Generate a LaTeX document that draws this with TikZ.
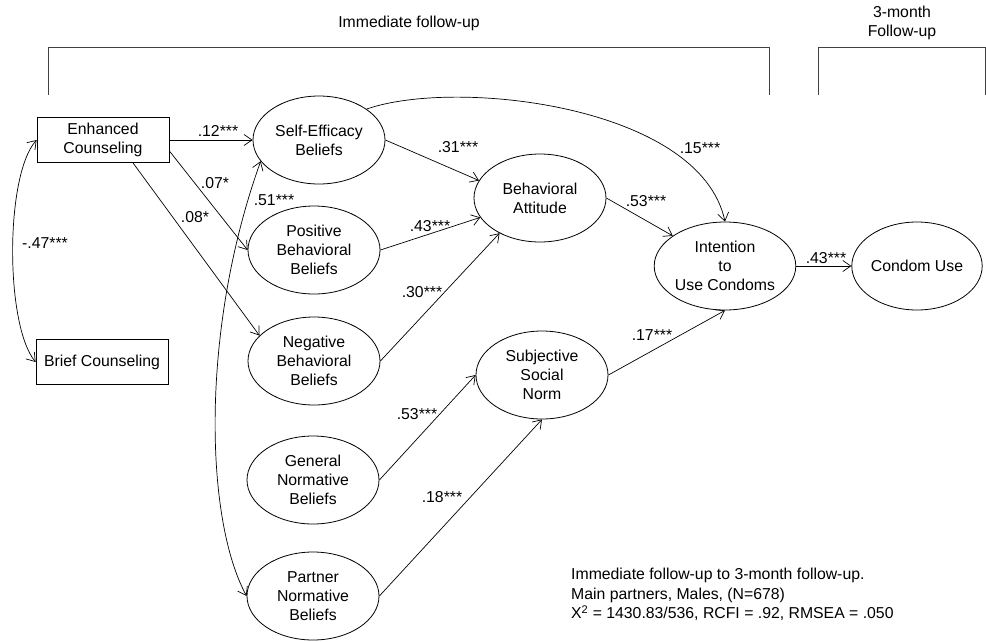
\documentclass[tikz,border=0pt]{standalone}
\usepackage{fontspec}
\setmainfont{Liberation Sans}
\usetikzlibrary{shapes.geometric,arrows.meta}
\begin{document}
\begin{tikzpicture}[x=1pt,y=-1pt,
  font=\fontsize{15.8}{19.2}\selectfont,
  every node/.style={inner sep=0pt},
  bx/.style={draw,line width=0.8pt,minimum width=132,minimum height=45,align=center},
  ell/.style={draw,line width=0.8pt,ellipse,minimum width=132,minimum height=88,align=center},
  arr/.style={line width=0.7pt,-{Straight Barb[length=8pt,width=11pt]}},
  darr/.style={line width=0.7pt,{Straight Barb[length=8pt,width=11pt]}-{Straight Barb[length=8pt,width=11pt]}},
  brk/.style={line width=0.9pt,draw=black!75},
  lbl/.style={anchor=center}]
\useasboundingbox (0,0) rectangle (986,641);

% time-frame brackets
\draw[brk] (48,95) -- (48,47) -- (769,47) -- (769,95);
\draw[brk] (818,95) -- (818,47) -- (985,47) -- (985,95);
\node[lbl] (hdrA) at (409,23) {Immediate follow-up};
\node[lbl,align=center] (hdrB) at (902,23) {3-month\\Follow-up};

% exogenous boxes
\node[bx] (enh) at (103,140) {Enhanced\\Counseling};
\node[bx] (brief) at (102,362) {Brief Counseling};

% belief ellipses
\node[ell] (se) at (319,140) {Self-Efficacy\\Beliefs};
\node[ell] (pos) at (314,250) {Positive\\Behavioral\\Beliefs};
\node[ell] (neg) at (314,361) {Negative\\Behavioral\\Beliefs};
\node[ell] (gen) at (313,480) {General\\Normative\\Beliefs};
\node[ell] (par) at (313,596) {Partner\\Normative\\Beliefs};

% mediators and outcomes
\node[ell] (att) at (540,198) {Behavioral\\Attitude};
\node[ell] (ssn) at (542,375) {Subjective\\Social\\Norm};
\node[ell] (int) at (725,266) {Intention\\to\\Use Condoms};
\node[ell,minimum width=126] (cu) at (917,266) {Condom Use};

% paths
\draw[arr] (enh.east) -- (se.west);
\draw[arr] (enh.east |- 0,151) -- (pos.west);
\draw[arr] (enh.south -| 133,0) -- (neg.155);
\draw[darr] (enh.west) .. controls (5,175) and (5,325) .. (brief.west);
\draw[darr] (se.200) .. controls (200,330) and (205,520) .. (par.west);
\draw[arr] (se.east) -- (att.164);
\draw[arr] (pos.east) -- (att.198);
\draw[arr] (neg.east) -- (att.221);
\draw[arr] (se.33) .. controls (455,78) and (700,105) .. (int.north);
\draw[arr] (att.east) -- (int.150);
\draw[arr] (ssn.east) -- (int.south);
\draw[arr] (int.east) -- (cu.west);
\draw[arr] (gen.east) -- (ssn.west);
\draw[arr] (par.east) -- (ssn.south);

% coefficients
\node[lbl] (c1) at (218,131) {.12***};
\node[lbl] (c2) at (215,183) {.07*};
\node[lbl] (c3) at (195,217) {.08*};
\node[lbl] (c4) at (45,243) {-.47***};
\node[lbl] (c5) at (274,200) {.51***};
\node[lbl] (c6) at (458,147) {.31***};
\node[lbl] (c7) at (430,226) {.43***};
\node[lbl] (c8) at (422,292) {.30***};
\node[lbl] (c9) at (700,148) {.15***};
\node[lbl] (c10) at (646,201) {.53***};
\node[lbl] (c11) at (652,335) {.17***};
\node[lbl] (c12) at (826,258) {.43***};
\node[lbl] (c13) at (417,414) {.53***};
\node[lbl] (c14) at (442,497) {.18***};

% fit summary
\node[anchor=north west,align=left,font=\fontsize{15.8}{19.5}\selectfont] (fit) at (571,568)
  {Immediate follow-up to 3-month follow-up.\\
   Main partners, Males, (N=678)\\
   X\textsuperscript{2} = 1430.83/536, RCFI = .92, RMSEA = .050};
\end{tikzpicture}
\end{document}
